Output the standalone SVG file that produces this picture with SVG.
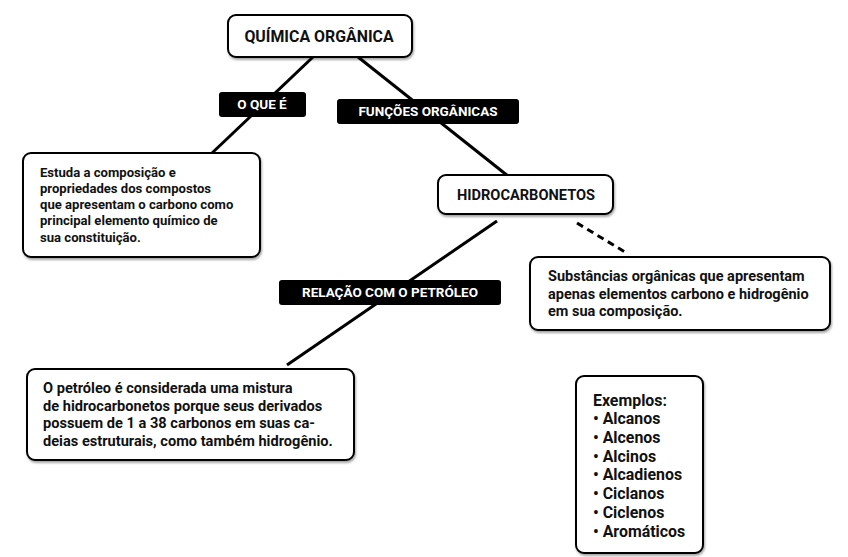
<svg xmlns="http://www.w3.org/2000/svg" width="848" height="557" viewBox="0 0 848 557">
<defs>
<filter id="sh" x="-10%" y="-10%" width="120%" height="130%">
<feDropShadow dx="1" dy="2" stdDeviation="1" flood-color="#000" flood-opacity="0.35"/>
</filter>
</defs>
<style>
.box{fill:#fff;stroke:#000;stroke-width:2;filter:url(#sh)}
.lab{fill:#000}
.t{font-family:Roboto,"Liberation Sans",sans-serif;font-weight:700;fill:#111}
.w{font-family:Roboto,"Liberation Sans",sans-serif;font-weight:700;fill:#fff;font-size:13.5px;text-anchor:middle}
.ln{stroke:#000;stroke-width:3;fill:none}
</style>
<rect width="848" height="557" fill="#fff"/>
<g id="connectors">
<line class="ln" x1="313" y1="57" x2="211" y2="154"/>
<line class="ln" x1="358" y1="57" x2="508" y2="176"/>
<line class="ln" x1="497" y1="221" x2="287" y2="365"/>
<line class="ln" x1="577" y1="223" x2="625" y2="252" stroke-dasharray="7,5"/>
</g>
<g id="quimica">
<rect class="box" x="228" y="15" width="184" height="42" rx="8"/>
<text class="t" x="319" y="42" font-size="15.9" text-anchor="middle">QUÍMICA ORGÂNICA</text>
</g>
<g id="oque">
<rect class="lab" x="219" y="92" width="87" height="25" rx="3"/>
<text class="w" x="262" y="109">O QUE É</text>
</g>
<g id="funcoes">
<rect class="lab" x="337" y="99" width="182" height="25" rx="3"/>
<text class="w" x="428" y="116">FUNÇÕES ORGÂNICAS</text>
</g>
<g id="estuda">
<rect class="box" x="23" y="153" width="237" height="104" rx="8"/>
<text class="t" font-size="13.1"><tspan x="40" y="177">Estuda a composição e</tspan><tspan x="40" y="193">propriedades dos compostos</tspan><tspan x="40" y="209">que apresentam o carbono como</tspan><tspan x="40" y="225">principal elemento químico de</tspan><tspan x="40" y="242">sua constituição.</tspan></text>
</g>
<g id="hidro">
<rect class="box" x="438" y="175" width="175" height="39" rx="8"/>
<text class="t" x="526" y="200" font-size="14.6" text-anchor="middle">HIDROCARBONETOS</text>
</g>
<g id="relacao">
<rect class="lab" x="279" y="280" width="222" height="25" rx="3"/>
<text class="w" x="390" y="297">RELAÇÃO COM O PETRÓLEO</text>
</g>
<g id="substancias">
<rect class="box" x="530" y="257" width="300" height="73" rx="8"/>
<text class="t" font-size="14.5"><tspan x="548" y="281">Substâncias orgânicas que apresentam</tspan><tspan x="548" y="299">apenas elementos carbono e hidrogênio</tspan><tspan x="548" y="316">em sua composição.</tspan></text>
</g>
<g id="petroleo">
<rect class="box" x="27" y="369" width="327" height="91" rx="8"/>
<text class="t" font-size="14.6"><tspan x="43" y="393">O petróleo é considerada uma mistura</tspan><tspan x="43" y="411">de hidrocarbonetos porque seus derivados</tspan><tspan x="43" y="428">possuem de 1 a 38 carbonos em suas ca-</tspan><tspan x="43" y="446">deias estruturais, como também hidrogênio.</tspan></text>
</g>
<g id="exemplos">
<rect class="box" x="576" y="376" width="127" height="177" rx="8"/>
<text class="t" font-size="15.9"><tspan x="593" y="406">Exemplos:</tspan><tspan x="593" y="424">• Alcanos</tspan><tspan x="593" y="443">• Alcenos</tspan><tspan x="593" y="462">• Alcinos</tspan><tspan x="593" y="480">• Alcadienos</tspan><tspan x="593" y="499">• Ciclanos</tspan><tspan x="593" y="518">• Ciclenos</tspan><tspan x="593" y="537">• Aromáticos</tspan></text>
</g>
</svg>
